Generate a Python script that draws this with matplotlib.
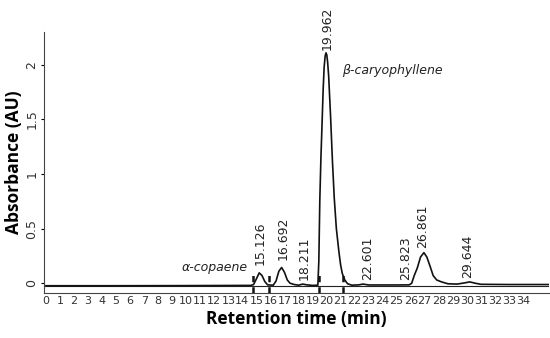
import matplotlib.pyplot as plt

# chromatogram trace (time in min, absorbance in AU)
trace_t = [0.0, 5.0, 10.0, 14.6, 14.8, 15.0, 15.2, 15.4, 15.6, 15.8, 16.2, 16.4, 16.6,
           16.8, 17.0, 17.2, 17.4, 17.7, 18.0, 18.3, 18.6, 19.0, 19.38, 19.45, 19.52,
           19.6, 19.69, 19.76, 19.83, 19.9, 19.96, 20.02, 20.08, 20.15, 20.28, 20.42,
           20.55, 20.7, 20.88, 21.0, 21.12, 21.3, 21.5, 21.8, 22.3, 22.6, 23.0, 25.0,
           25.9, 26.07, 26.25, 26.47, 26.7, 26.94, 27.15, 27.42, 27.6, 27.85, 28.2,
           28.65, 29.3, 29.8, 30.2, 30.6, 31.0, 33.0, 35.8]
trace_a = [-0.023, -0.023, -0.022, -0.02, -0.012, 0.04, 0.095, 0.07, 0.015, -0.015,
           -0.018, 0.02, 0.11, 0.144, 0.1, 0.03, 0.0, -0.012, -0.018, -0.008, -0.015,
           -0.02, -0.018, 0.2, 0.76, 1.15, 1.5, 1.78, 1.98, 2.08, 2.11, 2.09, 2.02,
           1.9, 1.55, 1.12, 0.78, 0.5, 0.29, 0.17, 0.09, 0.03, -0.005, -0.018, -0.015,
           -0.008, -0.016, -0.016, -0.015, 0.0, 0.07, 0.14, 0.24, 0.28, 0.24, 0.14,
           0.07, 0.03, 0.012, -0.005, -0.008, 0.002, 0.012, 0.0, -0.01, -0.012, -0.012]

peak_labels = ['15.126', '16.692', '18.211', '19.962', '22.601', '25.823', '26.861', '29.644']
label_t = [15.25, 16.9, 18.4, 20.03, 22.9, 25.65, 26.87, 30.08]
label_a = [0.165, 0.21, 0.03, 2.14, 0.03, 0.03, 0.32, 0.045]

event_t = [14.75, 15.9, 19.45, 21.2]

xticks = list(range(0, 35))
yticks = [0, 0.5, 1, 1.5, 2]
yticklabels = ['0', '0.5', '1', '1.5', '2']

fig = plt.figure(figsize=(5.5, 3.38), dpi=100)
ax = fig.add_axes([0.08, 0.133, 0.918, 0.772])

ax.plot(trace_t, trace_a, color='#111111', lw=1.2)
ax.axhline(-0.023, color='#222222', lw=0.8, zorder=1)
ax.vlines(event_t, -0.09, 0.1, colors='#111111', lw=1.8, linestyles=(0, (2.5, 2)))

for lab, t, a in zip(peak_labels, label_t, label_a):
    ax.text(t, a, lab, rotation=90, ha='center', va='bottom', fontsize=9, color='#222222')

ax.text(9.67, 0.14, 'α-copaene', style='italic', fontsize=9, va='center', color='#222222')
ax.text(21.08, 1.95, 'β-caryophyllene', style='italic', fontsize=9, va='center', color='#222222')

ax.set_xlim(-0.14, 35.85)
ax.set_ylim(-0.09, 2.3)
ax.set_xticks(xticks)
ax.set_xticklabels([str(v) for v in xticks], fontsize=8, color='#333333')
ax.set_yticks(yticks)
ax.set_yticklabels(yticklabels, fontsize=9, rotation=90, va='center', color='#333333')
ax.tick_params(axis='x', length=0, pad=2)
ax.tick_params(axis='y', length=2, pad=2)

for s in ['top', 'right']:
    ax.spines[s].set_visible(False)
ax.spines['left'].set_color('#444444')
ax.spines['bottom'].set_color('#444444')

ax.set_xlabel('Retention time (min)', fontsize=12.5, fontweight='bold', family='Open Sans', labelpad=3)
ax.set_ylabel('Absorbance (AU)', fontsize=12.5, fontweight='bold', family='Open Sans', labelpad=2)

fig.savefig('out.png')
